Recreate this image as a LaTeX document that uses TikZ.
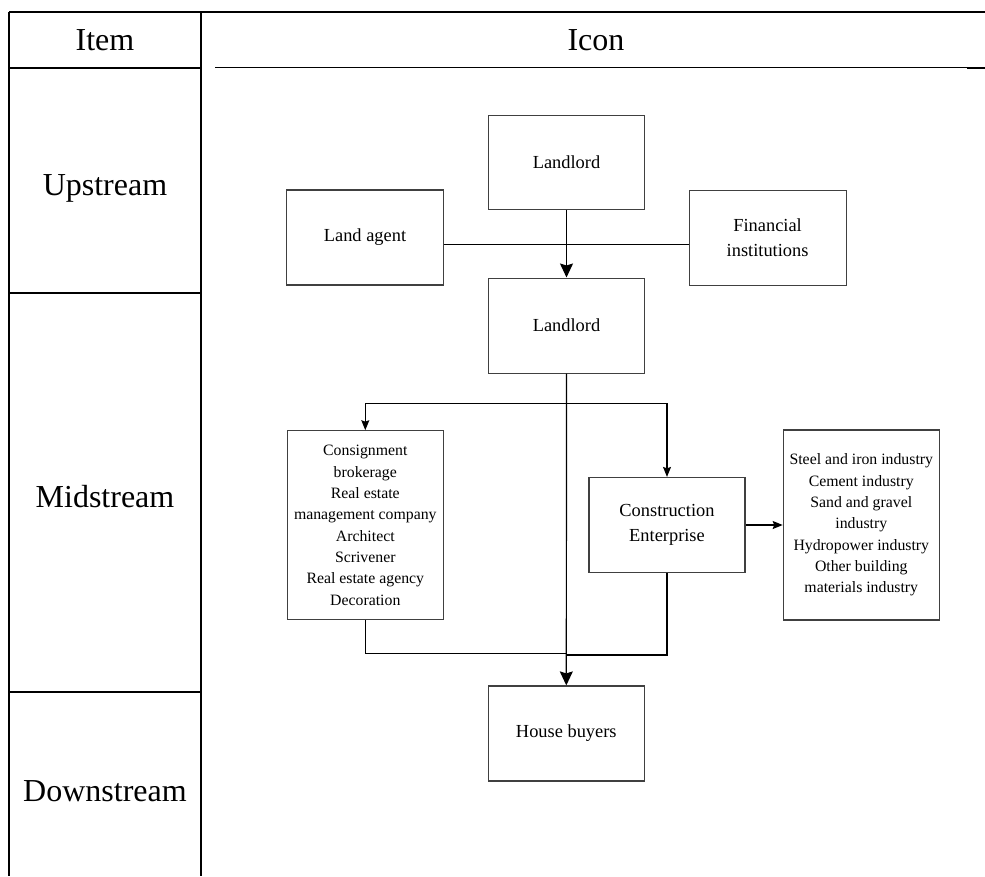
\documentclass[tikz,border=0pt]{standalone}
\usepackage{fontspec}
\setmainfont{Liberation Serif}
\usetikzlibrary{arrows.meta}
\begin{document}
\begin{tikzpicture}[x=1pt,y=-1pt,
  tbl/.style={line width=1.7pt,black},
  thin/.style={line width=1.1pt,black},
  lbl/.style={anchor=base,inner sep=0pt,font=\fontsize{32}{38}\selectfont},
  box/.style={draw=black!75,line width=1.2pt,minimum width=156pt,inner sep=0pt,align=center,font=\fontsize{18.4}{25.7}\selectfont},
  sbox/.style={box,font=\fontsize{15.8}{21.3}\selectfont},
  con/.style={line width=1.2pt,black},
  big/.style={con,-{Stealth[length=14pt,width=13pt,inset=2pt]}},
  small/.style={con,-{Stealth[length=10pt,width=8pt,inset=1.5pt]}}
]
\useasboundingbox (0,0) rectangle (985,876);
% table
\draw[tbl] (9,11.7) -- (985,11.7);
\draw[tbl] (9,11.7) -- (9,876);
\draw[tbl] (201,11.7) -- (201,876);
\draw[tbl] (9,68) -- (201,68);
\draw[thin] (215,67.7) -- (967,67.7);
\draw[line width=2.4pt] (967,68.2) -- (985,68.2);
\draw[tbl] (9,293.3) -- (201,293.3);
\draw[tbl] (9,691.7) -- (201,691.7);
\node[lbl] (item) at (105,50) {Item};
\node[lbl] (icon) at (596,50) {Icon};
\node[lbl] (up) at (105,195) {Upstream};
\node[lbl] (mid) at (105,507.3) {Midstream};
\node[lbl] (down) at (105,801.7) {Downstream};
% boxes
\node[box,minimum height=94pt] (land1) at (566.5,162.3) {Landlord};
\node[box,minimum height=95pt,minimum width=157pt] (agent) at (365,237.5) {Land agent};
\node[box,minimum height=95pt,minimum width=157pt] (fin) at (767.6,237.8) {Financial\\institutions};
\node[box,minimum height=95pt] (land2) at (566.5,325.6) {Landlord};
\node[sbox,minimum height=189pt] (cons) at (365.3,525.3) {Consignment\\brokerage\\Real estate\\management company\\Architect\\Scrivener\\Real estate agency\\Decoration};
\node[box,minimum height=95pt] (constr) at (667,525) {Construction\\Enterprise};
\node[sbox,minimum height=190pt] (steel) at (861.3,525) {Steel and iron industry\\Cement industry\\Sand and gravel\\industry\\Hydropower industry\\Other building\\materials industry};
\node[box,minimum height=95pt] (buyers) at (566.3,733.5) {House buyers};
% connectors
\coordinate (hl) at (566.5,244.5);
\coordinate (branch) at (566.5,403.3);
\coordinate (joinL) at (566.5,653.3);
\coordinate (joinR) at (566.5,655);
\draw[con] (agent.east |- hl) -- (fin.west |- hl);
\draw[big] (land1.south) -- (land2.north);
\draw[big] (land2.south) -- (buyers.north);
\draw[small] (branch) -| (cons.north);
\draw[small] (branch) -| (constr.north);
\draw[small] (constr.east) -- (steel.west);
\draw[con] (cons.south) |- (joinL);
\draw[con] (constr.south) |- (joinR);
\end{tikzpicture}
\end{document}
